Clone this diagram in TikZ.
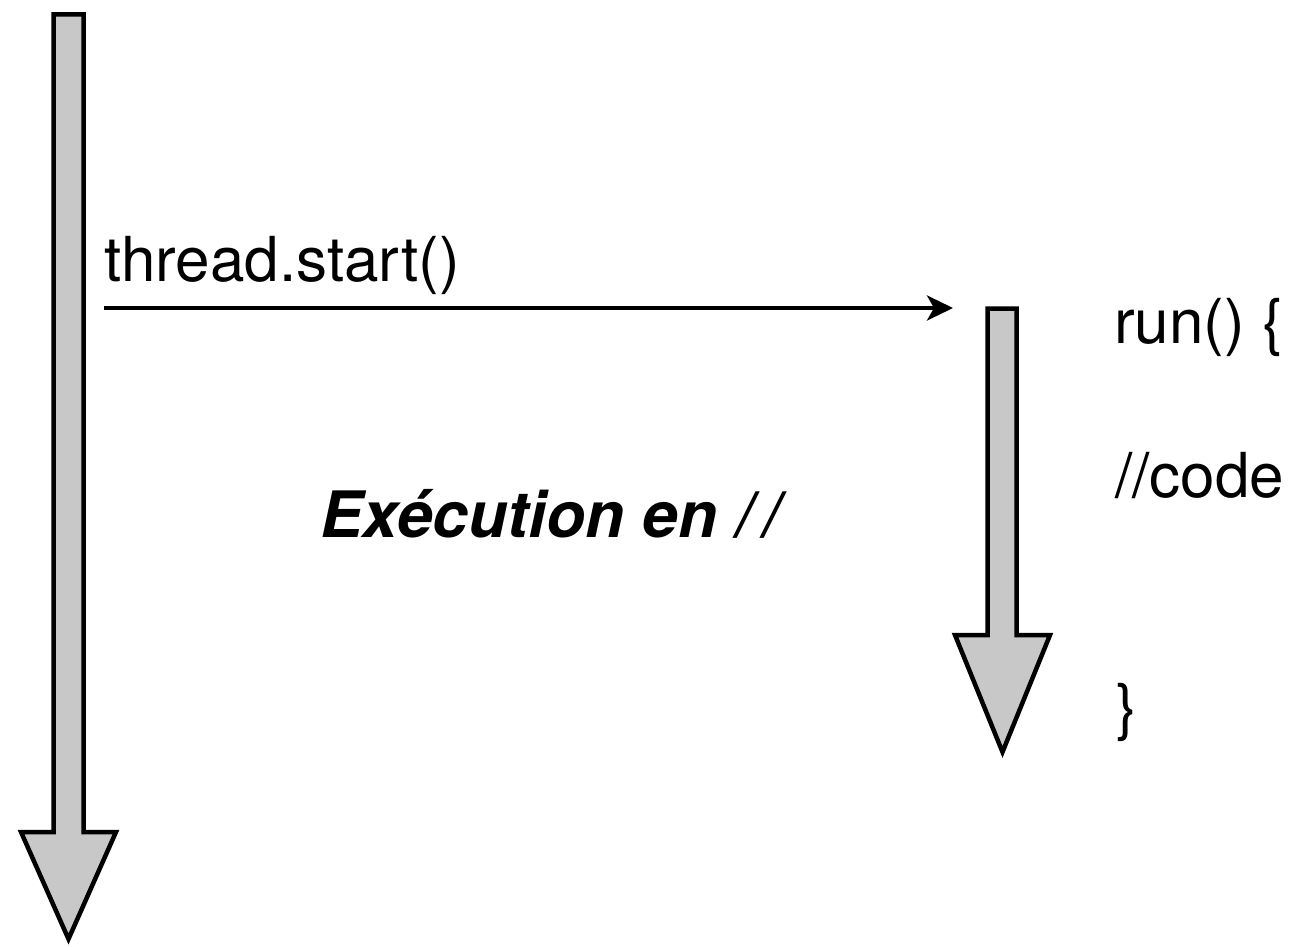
\documentclass[tikz,border=0pt]{standalone}
\usepackage{fontspec}
\setmainfont{TeX Gyre Heros}
\usepackage{tikz}
\usetikzlibrary{arrows.meta,positioning,calc}
\definecolor{flowgray}{RGB}{200,200,200}

\begin{document}
\begin{tikzpicture}[x=1pt,y=-1pt,
  flow/.style={draw=black,fill=flowgray,line width=4.5pt,line join=miter},
  call/.style={line width=4pt,-{Stealth[length=26pt,width=25pt,inset=7pt]}},
  label/.style={inner sep=0pt,anchor=base west,font=\fontsize{62}{74}\selectfont},
  note/.style={inner sep=0pt,anchor=base west,font=\fontsize{64}{76}\selectfont\bfseries\itshape}]
\useasboundingbox (0,0) rectangle (1304,947);

% main thread
\draw[flow] (53.5,14.5) -- (83.5,14.5) -- (83.5,832) -- (116,832) -- (68.5,939)
  -- (21,832) -- (53.5,832) -- cycle;
% new thread
\draw[flow] (987.5,308.5) -- (1016.5,308.5) -- (1016.5,635) -- (1050,635) -- (1002.5,752)
  -- (955,635) -- (987.5,635) -- cycle;

\coordinate (callfrom) at (104,308);
\coordinate (callto) at (953,308);
\draw[call] (callfrom) -- (callto);

\node (start) at (104,281) [label] {thread.start()};
\node (para) at (320,537) [note] {Exécution en /\kern10pt/};
\node (runopen) at (1114,343) [label] {run() \{};
\node (runcode) at (1115,497) [label] {//code};
\node (runclose) at (1116,728) [label] {\}};
\end{tikzpicture}
\end{document}
